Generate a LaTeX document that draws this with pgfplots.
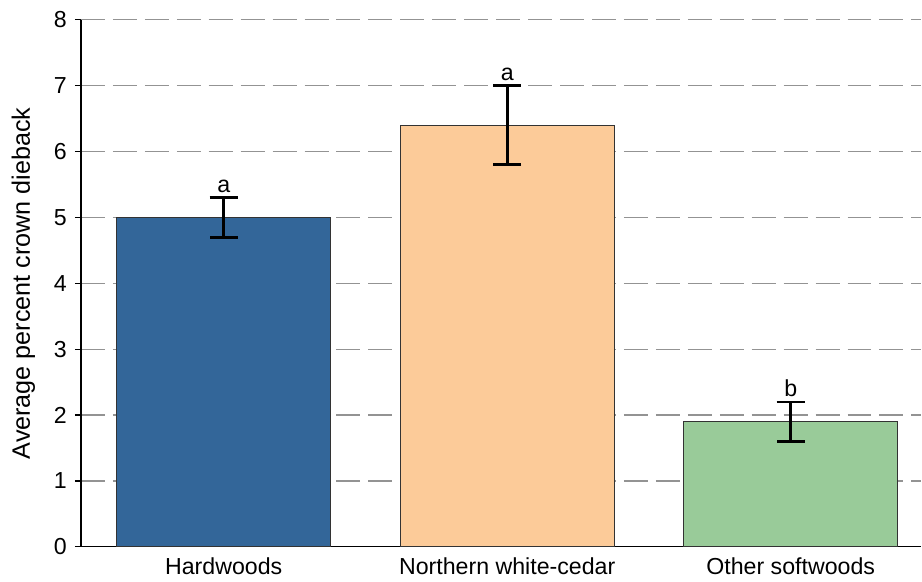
\documentclass[border=0pt]{standalone}
\usepackage{pgfplots}
\pgfplotsset{compat=1.18}
\usepackage{fontspec}
\setmainfont{Liberation Sans}

\definecolor{hardblue}{HTML}{336699}
\definecolor{cedar}{HTML}{FCCB99}
\definecolor{softgreen}{HTML}{99CB99}

\begin{document}
\begin{tikzpicture}
    \begin{axis}[
            width=421pt, height=264pt,
            scale only axis,
            xmin=-0.5035, xmax=2.461,
            ymin=0, ymax=8,
            ytick={0,1,...,8},
            xtick={0,1,2},
            xticklabels={Hardwoods, Northern white-cedar, Other softwoods},
            xtick style={draw=none},
            ytick style={black, line width=0.6pt},
            tick align=outside,
            major tick length=3pt,
            axis x line*=bottom,
            axis y line*=left,
            axis line style={black, line width=0.6pt, -},
            ymajorgrids=true,
            grid style={gray!85, line width=0.6pt, dash pattern=on 12pt off 4pt},
            ylabel={Average percent crown dieback},
            ylabel style={font=\fontsize{12.6}{14}\selectfont, inner ysep=4.3pt, yshift=1.6pt},
            tick label style={font=\fontsize{11.6}{13}\selectfont},
            yticklabel style={xshift=-0.6pt},
            xticklabel style={yshift=1pt},
            /pgf/number format/assume math mode=true,
            ybar, bar width=107pt, bar shift=0pt,
            error bars/y dir=both,
            error bars/y explicit,
            error bars/error bar style={black, line width=1.4pt},
            error bars/error mark options={rotate=90, mark size=7pt, line width=1.4pt, black},
        ]
        \addplot[fill=hardblue, draw=black!80, line width=0.5pt]
            coordinates {(0,5.0) +- (0,0.3)};
        \addplot[fill=cedar, draw=black!80, line width=0.5pt]
            coordinates {(1,6.4) +- (0,0.6)};
        \addplot[fill=softgreen, draw=black!80, line width=0.5pt]
            coordinates {(2,1.9) +- (0,0.3)};

        \addplot[draw=none, mark=none, nodes near coords, point meta=explicit symbolic,
            every node near coord/.append style={anchor=south, font=\fontsize{11.6}{13}\selectfont, inner sep=1pt, yshift=1.5pt}]
            table[meta=label] {
                x y label
                0 5.3 a
                1 7.0 a
                2 2.2 b
            };
    \end{axis}
    % a little extra white margin on the left and at the top
    \path (current bounding box.south west) ++(-1.5pt,0pt)
          (current bounding box.north east) ++(0pt,2.5pt);
\end{tikzpicture}
\end{document}
